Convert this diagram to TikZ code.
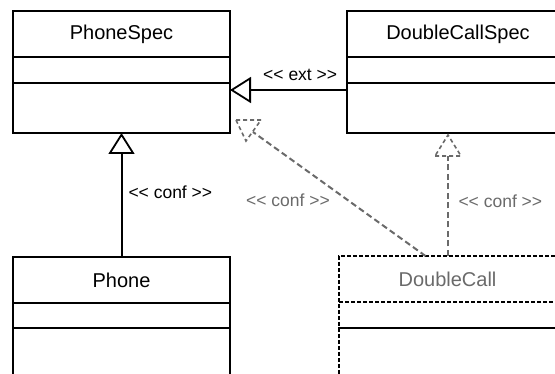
\documentclass[tikz,border=0pt]{standalone}
\usepackage{fontspec}
\setmainfont{Liberation Sans}[Ligatures=TeXOff]
\usetikzlibrary{positioning,arrows.meta}
\definecolor{confgrey}{HTML}{6A6A6A}

\tikzset{
  cls/.style={draw, line width=1.5pt, minimum width=217pt, inner sep=0pt, outer sep=0pt},
  clshead/.style={cls, minimum height=46pt, font=\fontsize{20}{24}\selectfont},
  clsattr/.style={cls, minimum height=26pt},
  clsops/.style={cls, minimum height=50pt},
  ghostbox/.style={line width=1.7pt, dash pattern=on 4pt off 2pt},
  lbl/.style={inner sep=0pt, font=\fontsize{17.5}{21}\selectfont},
  realize/.style={line width=2pt, -{Triangle[open, length=21pt, width=26pt, line width=1.8pt]}},
  confline/.style={line width=2pt, confgrey, dash pattern=on 6pt off 3.5pt},
}

\begin{document}
\begin{tikzpicture}[x=1pt, y=-1pt]
  \useasboundingbox (0,0) rectangle (555,374);
  \clip (0,0) rectangle (555,374);
  %
  % PhoneSpec
  \node[clshead, anchor=north west] (psH) at (13,11) {PhoneSpec};
  \node[clsattr, below=0pt of psH] (psA) {};
  \node[clsops, below=0pt of psA] (psO) {};
  % DoubleCallSpec
  \node[clshead, anchor=north west] (dcsH) at (347,11) {\hspace{5pt}DoubleCallSpec};
  \node[clsattr, below=0pt of dcsH] (dcsA) {};
  \node[clsops, below=0pt of dcsA] (dcsO) {};
  % Phone
  \node[clshead, anchor=north west] (phH) at (13,257) {Phone};
  \node[clsattr, minimum height=25pt, below=0pt of phH] (phA) {};
  \node[clsops, minimum height=70pt, below=0pt of phA] (phO) {};
  % DoubleCall
  \node[clshead, ghostbox, anchor=north west, text=confgrey] (dcH) at (339,256) {DoubleCall\hspace{17pt}};
  \node[clsattr, ghostbox, below=0pt of dcH] (dcA) {};
  \node[clsops, ghostbox, minimum height=70pt, below=0pt of dcA] (dcO) {};
  %
  % extension
  \draw[realize] ([yshift=-7pt]dcsO.north west) -- node[lbl, pos=0.4, above=8pt] {<< ext >>} ([yshift=-7pt]psO.north east);
  % conformance
  \draw[realize] (phH.north) -- node[lbl, pos=0.52, right=6pt] {<< conf >>} (psO.south);
  % dashed conformance arrows
  \coordinate (diagA) at (236,120);
  \coordinate (diagB) at (261,120);
  \coordinate (diagC) at (246,141);
  \coordinate (diagE) at (253,132);
  \draw[confline, line width=1.6pt, dash pattern=on 4pt off 3pt, line join=miter] (diagA) -- (diagB) -- (diagC) -- cycle;
  \draw[confline] ([xshift=-22pt]dcH.north) -- node[lbl, text=confgrey, pos=0.45, left=17pt] {<< conf >>} (diagE);
  \coordinate (vertA) at (435,156);
  \coordinate (vertB) at (461,156);
  \coordinate (vertC) at (448,135);
  \draw[confline, line width=1.6pt, dash pattern=on 4pt off 3pt, line join=miter] (vertA) -- (vertB) -- (vertC) -- cycle;
  \draw[confline] (dcH.north) -- node[lbl, text=confgrey, pos=0.55, right=10pt] {<< conf >>} (dcH.north |- vertA);
\end{tikzpicture}
\end{document}
